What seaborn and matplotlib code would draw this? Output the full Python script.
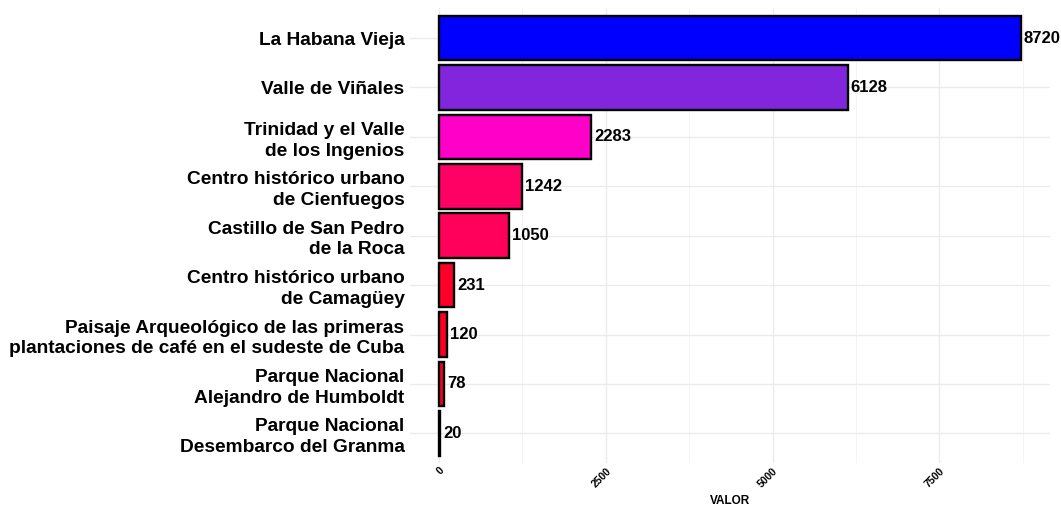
import matplotlib
matplotlib.use("Agg")
import matplotlib.pyplot as plt
from matplotlib.ticker import MultipleLocator
import seaborn as sns
import pandas as pd

# Datos
sitios = [
    "La Habana Vieja",
    "Valle de Viñales",
    "Trinidad y el Valle\nde los Ingenios",
    "Centro histórico urbano\nde Cienfuegos",
    "Castillo de San Pedro\nde la Roca",
    "Centro histórico urbano\nde Camagüey",
    "Paisaje Arqueológico de las primeras\nplantaciones de café en el sudeste de Cuba",
    "Parque Nacional\nAlejandro de Humboldt",
    "Parque Nacional\nDesembarco del Granma",
]
valores = [8720, 6128, 2283, 1242, 1050, 231, 120, 78, 20]
colores = ["#0000FF", "#8226DE", "#FF00C8", "#FF0064", "#FF005A",
           "#FF0028", "#FF0022", "#FF0020", "#FF001C"]

df = pd.DataFrame({"sitio": sitios, "valor": valores})

sns.set_theme(style="whitegrid")
plt.rcParams["font.family"] = ["Liberation Sans", "DejaVu Sans"]

fig = plt.figure(figsize=(10.61, 5.07), dpi=100)
ax = fig.add_axes([0.3864, 0.0868, 0.6032, 0.8966])

sns.barplot(data=df, x="valor", y="sitio", hue="sitio", palette=colores,
            legend=False, width=0.9, saturation=1, edgecolor="black",
            linewidth=1.7, ax=ax)

for cont in ax.containers:
    ax.bar_label(cont, fmt="%d", padding=2, fontsize=12, fontweight="bold",
                 color="black")

ax.set_xlim(-436, 9156)
ax.set_ylim(len(sitios) - 1 + 0.6, -0.6)
ax.xaxis.set_major_locator(MultipleLocator(2500))
ax.xaxis.set_minor_locator(MultipleLocator(1250))
ax.grid(which="major", color="#EBEBEB", linewidth=1.0)
ax.grid(which="minor", axis="x", color="#F2F2F2", linewidth=0.6)
ax.set_axisbelow(True)
for s in ax.spines.values():
    s.set_visible(False)

ax.tick_params(axis="both", length=0)
ax.tick_params(axis="y", pad=4, labelsize=13.8)
ax.tick_params(axis="x", pad=2, labelsize=7.5)
for lab in ax.get_yticklabels():
    lab.set_fontweight("bold")
    lab.set_color("black")
    lab.set_linespacing(1.28)
for lab in ax.get_xticklabels():
    lab.set_fontweight("bold")
    lab.set_rotation(45)
    lab.set_ha("right")
    lab.set_va("top")
    lab.set_rotation_mode("anchor")
    lab.set_color("black")

ax.set_ylabel("")
ax.set_xlabel("VALOR", fontsize=8.5, fontweight="bold", color="black", labelpad=4)

fig.savefig("out.png", dpi=100, facecolor="white")
